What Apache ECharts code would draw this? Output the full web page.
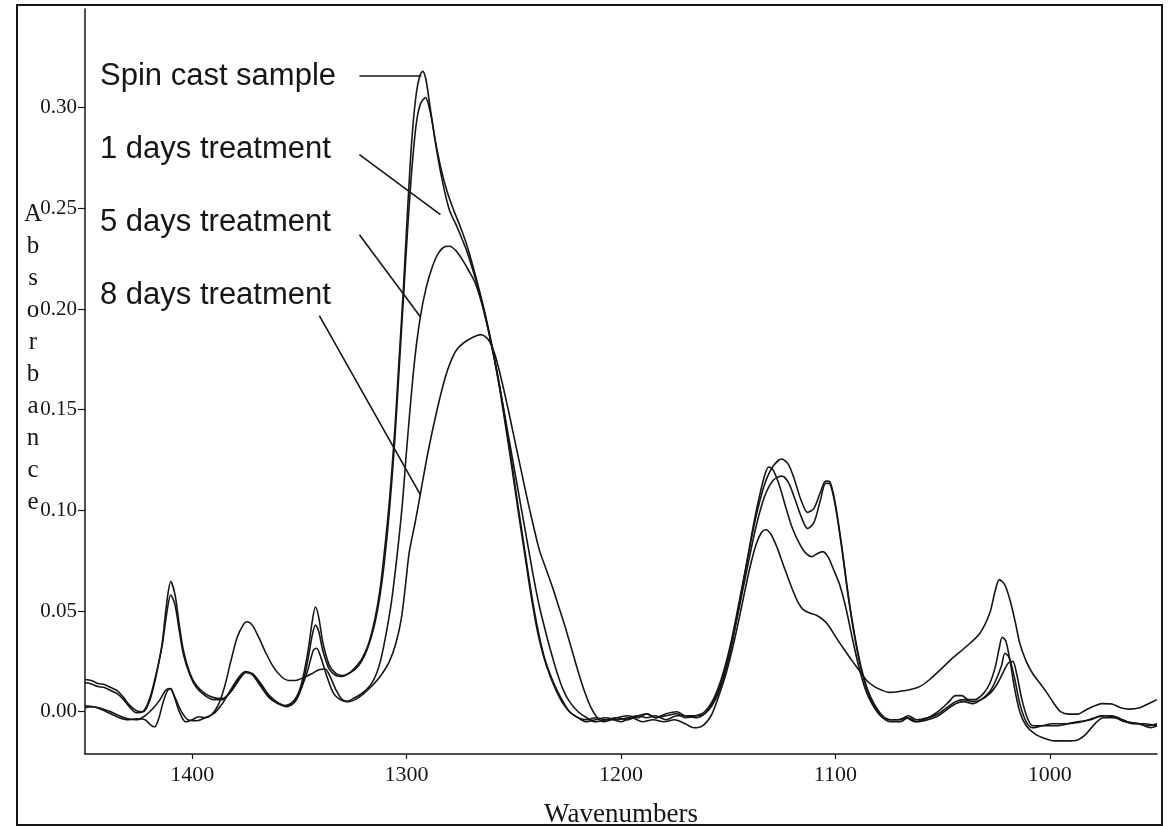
<!DOCTYPE html>
<html><head><meta charset="utf-8">
<script src="https://cdn.jsdelivr.net/npm/echarts@6/dist/echarts.min.js"></script>
<style>html,body{margin:0;padding:0;background:#fff}#c{width:1170px;height:826px}</style>
</head><body><div id="c"></div><script>
// wavenumber (cm-1), absorbance
const spinCast = [[1450,0.016],[1447,0.0155],[1444,0.014],[1441,0.0135],[1438,0.012],[1435,0.0105],[1432,0.007],[1429,0.003],[1426,0.0005],[1423,0.0],[1420,0.005],[1417,0.017],[1414,0.034],[1412,0.053],[1410,0.0646],[1408,0.058],[1406,0.043],[1404,0.03],[1401,0.019],[1398,0.013],[1394,0.009],[1390,0.007],[1386,0.0065],[1382,0.010],[1378,0.016],[1375,0.0195],[1372,0.019],[1368,0.014],[1364,0.008],[1360,0.0045],[1356,0.003],[1352,0.006],[1349,0.014],[1346,0.03],[1344,0.045],[1342.5,0.052],[1341,0.047],[1339,0.034],[1336,0.023],[1333,0.019],[1330,0.018],[1327,0.019],[1324,0.022],[1321,0.026],[1318,0.033],[1315,0.045],[1312.5,0.06],[1310.5,0.078],[1308,0.105],[1305.5,0.14],[1303.5,0.175],[1301.5,0.21],[1299.5,0.25],[1297.5,0.285],[1295.5,0.307],[1293.8,0.316],[1292.5,0.318],[1291,0.314],[1289,0.3],[1286,0.279],[1283,0.262],[1280,0.249],[1277,0.242],[1275,0.237],[1272,0.229],[1269,0.219],[1266,0.208],[1263,0.195],[1260,0.18],[1257,0.163],[1254,0.143],[1251,0.122],[1248,0.1],[1245,0.079],[1242,0.058],[1239,0.04],[1236,0.027],[1233,0.0175],[1230,0.01],[1227,0.004],[1224,0.0],[1220,-0.003],[1216,-0.004],[1212,-0.003],[1207,-0.004],[1202,-0.003],[1197,-0.002],[1192,-0.003],[1188,-0.001],[1184,-0.003],[1179,-0.002],[1174,-0.001],[1170,-0.003],[1165,-0.002],[1161,0.0],[1157,0.006],[1153,0.017],[1149,0.033],[1145,0.054],[1141,0.076],[1137,0.097],[1133,0.113],[1129,0.122],[1125,0.1255],[1122,0.123],[1119,0.115],[1116,0.105],[1113,0.099],[1110,0.101],[1107,0.109],[1104.5,0.1145],[1102.5,0.114],[1100,0.103],[1097,0.082],[1094,0.058],[1091,0.038],[1088,0.022],[1085,0.011],[1082,0.004],[1078,-0.002],[1074,-0.004],[1070,-0.004],[1066,-0.002],[1062,-0.004],[1057,-0.003],[1052,-0.001],[1048,0.002],[1044,0.005],[1040,0.006],[1036,0.005],[1032,0.006],[1028,0.009],[1025,0.013],[1022,0.019],[1019.5,0.024],[1017.3,0.025],[1015.5,0.019],[1013,0.006],[1010.5,-0.003],[1008,-0.007],[1004,-0.007],[999,-0.006],[993,-0.006],[987,-0.005],[981,-0.004],[976,-0.002],[971,-0.002],[966,-0.004],[961,-0.006],[956,-0.006],[950,-0.007]];

const oneDay = [[1450,0.0145],[1447,0.0138],[1444,0.0125],[1441,0.012],[1438,0.0105],[1435,0.009],[1432,0.006],[1429,0.002],[1426,-0.0005],[1423,0.0],[1420,0.006],[1417,0.018],[1414,0.033],[1412,0.048],[1410,0.058],[1408,0.053],[1406,0.04],[1404,0.028],[1401,0.018],[1398,0.012],[1394,0.008],[1390,0.006],[1386,0.006],[1382,0.010],[1378,0.017],[1375,0.0195],[1372,0.0185],[1368,0.013],[1364,0.007],[1360,0.004],[1356,0.0025],[1352,0.005],[1349,0.012],[1346,0.026],[1344,0.038],[1342.5,0.043],[1341,0.04],[1339,0.03],[1336,0.021],[1333,0.018],[1330,0.0175],[1327,0.019],[1324,0.021],[1321,0.025],[1318,0.032],[1315,0.043],[1312.5,0.057],[1310.5,0.073],[1308,0.1],[1305.5,0.135],[1303.5,0.17],[1301.5,0.205],[1299.5,0.24],[1297.5,0.27],[1295.5,0.292],[1293.5,0.302],[1291.2,0.305],[1289,0.298],[1286.5,0.283],[1284,0.27],[1281,0.258],[1278,0.249],[1275,0.241],[1272,0.232],[1269,0.221],[1266,0.209],[1263,0.196],[1260,0.181],[1257,0.164],[1254,0.145],[1251,0.124],[1248,0.102],[1245,0.081],[1242,0.06],[1239,0.042],[1236,0.028],[1233,0.0185],[1230,0.011],[1227,0.005],[1224,0.0],[1220,-0.003],[1216,-0.005],[1212,-0.004],[1207,-0.003],[1202,-0.004],[1197,-0.003],[1192,-0.002],[1188,-0.003],[1184,-0.002],[1179,-0.004],[1174,-0.002],[1170,-0.002],[1165,-0.003],[1161,-0.001],[1157,0.005],[1153,0.015],[1149,0.031],[1145,0.051],[1141,0.072],[1137,0.092],[1133,0.107],[1129,0.115],[1125,0.117],[1122,0.114],[1119,0.106],[1116,0.097],[1113,0.091],[1110,0.094],[1107,0.105],[1104.5,0.1135],[1102.5,0.113],[1100,0.102],[1097,0.081],[1094,0.057],[1091,0.037],[1088,0.021],[1085,0.01],[1082,0.003],[1078,-0.003],[1074,-0.005],[1070,-0.005],[1066,-0.003],[1062,-0.005],[1057,-0.004],[1052,-0.002],[1048,0.001],[1044,0.004],[1040,0.005],[1036,0.004],[1032,0.006],[1028,0.01],[1025,0.016],[1022.5,0.023],[1020.9,0.029],[1019,0.027],[1016.5,0.017],[1014,0.004],[1011,-0.005],[1008,-0.008],[1003,-0.007],[997,-0.007],[991,-0.006],[985,-0.005],[979,-0.003],[974,-0.002],[969,-0.003],[964,-0.005],[958,-0.006],[953,-0.008],[950,-0.007]];

const fiveDays = [[1450,0.002],[1446,0.0025],[1442,0.0015],[1438,0.0],[1434,-0.002],[1430,-0.0035],[1426,-0.004],[1422,-0.002],[1418,0.002],[1415,0.006],[1412.5,0.0105],[1410.5,0.0115],[1408,0.007],[1405,0.0],[1402,-0.004],[1398,-0.0045],[1394,-0.003],[1390,-0.001],[1386,0.004],[1382,0.011],[1378,0.0175],[1375,0.02],[1372,0.0185],[1368,0.0125],[1364,0.007],[1360,0.004],[1357,0.003],[1353,0.005],[1349,0.012],[1346,0.021],[1343.5,0.0305],[1342,0.0315],[1340,0.027],[1337,0.017],[1334,0.009],[1331,0.006],[1328,0.005],[1325,0.0065],[1321,0.009],[1317,0.013],[1314,0.019],[1312,0.026],[1309.5,0.039],[1307,0.055],[1304.5,0.077],[1302,0.103],[1300,0.13],[1298,0.155],[1296,0.177],[1293.6,0.196],[1291,0.21],[1288,0.221],[1285,0.228],[1282,0.231],[1280,0.2312],[1277,0.229],[1274,0.2245],[1271,0.219],[1268,0.213],[1265,0.203],[1262,0.19],[1259,0.175],[1256,0.158],[1253,0.14],[1250,0.122],[1247,0.104],[1244,0.086],[1241,0.068],[1238,0.052],[1235,0.039],[1233,0.031],[1230,0.02],[1227,0.011],[1224,0.005],[1220,0.0],[1216,-0.003],[1212,-0.005],[1207,-0.004],[1202,-0.003],[1197,-0.004],[1192,-0.002],[1188,-0.001],[1184,-0.003],[1179,-0.001],[1174,0.0],[1170,-0.002],[1165,-0.002],[1161,-0.001],[1157,0.004],[1153,0.014],[1149,0.03],[1145,0.052],[1141,0.076],[1138,0.094],[1135,0.109],[1132.5,0.119],[1131,0.1215],[1129,0.12],[1126,0.112],[1123,0.101],[1120,0.091],[1117,0.084],[1114,0.079],[1111,0.077],[1108.5,0.0785],[1106,0.0795],[1103.5,0.077],[1101,0.071],[1098,0.063],[1095,0.051],[1092,0.036],[1089,0.022],[1086,0.011],[1083,0.004],[1079,-0.002],[1075,-0.004],[1071,-0.004],[1067,-0.003],[1063,-0.005],[1059,-0.004],[1055,-0.002],[1051,0.001],[1047,0.005],[1044,0.008],[1041,0.008],[1038,0.006],[1035,0.006],[1031,0.009],[1028,0.014],[1025.5,0.022],[1023.5,0.032],[1022.2,0.037],[1020.5,0.035],[1018.5,0.025],[1016.5,0.012],[1014,0.0],[1011,-0.007],[1007,-0.011],[1003,-0.013],[998,-0.0145],[992,-0.0145],[987,-0.014],[983,-0.011],[979,-0.006],[975,-0.003],[970,-0.003],[965,-0.005],[959,-0.006],[954,-0.007],[950,-0.006]];

const eightDays = [[1450,0.003],[1446,0.0025],[1442,0.001],[1438,-0.001],[1434,-0.003],[1430,-0.004],[1426,-0.0035],[1422,-0.004],[1419.5,-0.0065],[1417.5,-0.0075],[1415.5,-0.003],[1413.5,0.005],[1411.5,0.0105],[1410,0.0115],[1408.5,0.008],[1406,0.0],[1403,-0.005],[1400,-0.004],[1397,-0.0025],[1394,-0.003],[1391,-0.0015],[1388,0.003],[1385,0.012],[1382,0.025],[1379,0.037],[1376,0.0435],[1374.5,0.0447],[1372,0.043],[1369,0.037],[1366,0.03],[1362,0.022],[1358,0.017],[1355,0.0155],[1352,0.0155],[1348,0.017],[1344,0.019],[1340.5,0.021],[1338,0.0212],[1335.5,0.017],[1333,0.011],[1330,0.006],[1327,0.005],[1324,0.006],[1320,0.009],[1316,0.013],[1312,0.018],[1308,0.025],[1305,0.034],[1302.5,0.046],[1300.5,0.063],[1298.8,0.079],[1296,0.094],[1293.6,0.108],[1290,0.129],[1286,0.149],[1282,0.166],[1279,0.175],[1276.5,0.18],[1273,0.1835],[1269,0.186],[1265.5,0.1873],[1262,0.185],[1259,0.178],[1256,0.166],[1253,0.152],[1250,0.137],[1247,0.122],[1244,0.107],[1241,0.093],[1238,0.08],[1235,0.071],[1232,0.062],[1229,0.052],[1226,0.042],[1223,0.031],[1220,0.02],[1217,0.01],[1214,0.002],[1211,-0.003],[1208,-0.005],[1204,-0.004],[1200,-0.005],[1195,-0.003],[1190,-0.005],[1185,-0.004],[1180,-0.005],[1175,-0.004],[1170,-0.006],[1166,-0.008],[1162,-0.007],[1158,-0.002],[1155,0.006],[1151,0.019],[1147,0.036],[1143,0.056],[1140,0.071],[1137,0.083],[1134.5,0.089],[1132.5,0.0904],[1130,0.088],[1127,0.081],[1124,0.072],[1120,0.0606],[1117,0.0535],[1115,0.0507],[1112,0.049],[1109,0.048],[1105,0.045],[1102.5,0.0417],[1100,0.0374],[1096,0.031],[1092,0.025],[1088,0.0192],[1085,0.015],[1082,0.0126],[1078,0.0105],[1075,0.0096],[1070,0.0101],[1065,0.011],[1060.5,0.0126],[1056,0.016],[1051,0.0209],[1045,0.027],[1038.8,0.0325],[1032.6,0.039],[1028,0.049],[1025.5,0.06],[1023.5,0.0656],[1021,0.063],[1018.6,0.0556],[1016,0.044],[1014,0.034],[1011,0.025],[1008,0.019],[1004.5,0.014],[1001.4,0.0095],[998,0.004],[995,0.0],[991,-0.0012],[987,-0.0012],[983,0.001],[979,0.003],[975.7,0.004],[971,0.0038],[967,0.002],[962.9,0.0013],[958,0.002],[954,0.004],[950,0.006]];

const xTicks = [1000, 1100, 1200, 1300, 1400];
const yTicks = [0, 0.05, 0.10, 0.15, 0.20, 0.25, 0.30];
const seriesNames = ['Spin cast sample', '1 days treatment', '5 days treatment', '8 days treatment'];
// leader lines, in data coordinates [wavenumber, absorbance]
const leaderLines = [
  [[1322.0, 0.3159], [1293.1, 0.3159]],
  [[1322.0, 0.2767], [1284.2, 0.2469]],
  [[1322.0, 0.2369], [1293.6, 0.1962]],
  [[1340.7, 0.1967], [1293.6, 0.1078]]
];
const yTitle = 'Absorbance';
const xTitle = 'Wavenumbers';

const INK = '#161616';
const chart = echarts.init(document.getElementById('c'), null, {renderer: 'canvas'});
const allData = [spinCast, oneDay, fiveDays, eightDays];
const series = allData.map((d, i) => ({
  type: 'line', name: seriesNames[i], data: d, showSymbol: false, smooth: 0.3,
  lineStyle: {color: INK, width: 1.6}, itemStyle: {color: INK}, silent: true,
  markLine: i === 0 ? {
    silent: true, symbol: ['none', 'none'], label: {show: false},
    lineStyle: {color: INK, width: 1.6, type: 'solid'},
    emphasis: {disabled: true},
    data: leaderLines.map(l => [{coord: l[0]}, {coord: l[1]}])
  } : undefined
}));

const labelBaselines = [86, 159, 232, 305];
const graphic = [
  {type: 'rect', shape: {x: 17, y: 5, width: 1145, height: 820}, style: {fill: 'none', stroke: INK, lineWidth: 2}, silent: true},
  {type: 'text', x: 33, y: 198, style: {text: yTitle.split('').join('\n'), font: '25px "Liberation Serif", "Times New Roman", serif', fill: INK, align: 'center', verticalAlign: 'top', lineHeight: 32}, silent: true}
].concat(seriesNames.map((t, i) => ({
  type: 'text', x: 100, y: labelBaselines[i] - 10,
  style: {text: t, font: '31px "Liberation Sans", Arial, sans-serif', fill: INK, align: 'left', verticalAlign: 'middle'}, silent: true
})));

chart.setOption({
  animation: false,
  backgroundColor: '#fff',
  grid: {left: 85, right: 13, top: 9, bottom: 72, containLabel: false, outerBoundsMode: 'none'},
  xAxis: {
    type: 'value', min: 950, max: 1450, inverse: true,
    name: xTitle, nameLocation: 'middle', nameGap: 47,
    nameTextStyle: {fontFamily: '"Liberation Serif", serif', fontSize: 27, color: INK},
    axisLine: {show: true, onZero: false, lineStyle: {color: INK, width: 1.5}},
    axisTick: {show: true, inside: false, length: 5, lineStyle: {color: INK, width: 1.2}, customValues: xTicks},
    axisLabel: {show: true, customValues: xTicks, margin: 10, fontFamily: '"Liberation Serif", serif', fontSize: 22, color: INK, formatter: v => String(v)},
    splitLine: {show: false}
  },
  yAxis: {
    type: 'value', min: -0.021, max: 0.349,
    axisLine: {show: true, onZero: false, lineStyle: {color: INK, width: 1.5}},
    axisTick: {show: true, inside: false, length: 7, lineStyle: {color: INK, width: 1.2}, customValues: yTicks},
    axisLabel: {show: true, customValues: yTicks, margin: 8, fontFamily: '"Liberation Serif", serif', fontSize: 21, color: INK, formatter: v => v.toFixed(2)},
    splitLine: {show: false}
  },
  graphic: graphic,
  series: series
});
</script></body></html>
